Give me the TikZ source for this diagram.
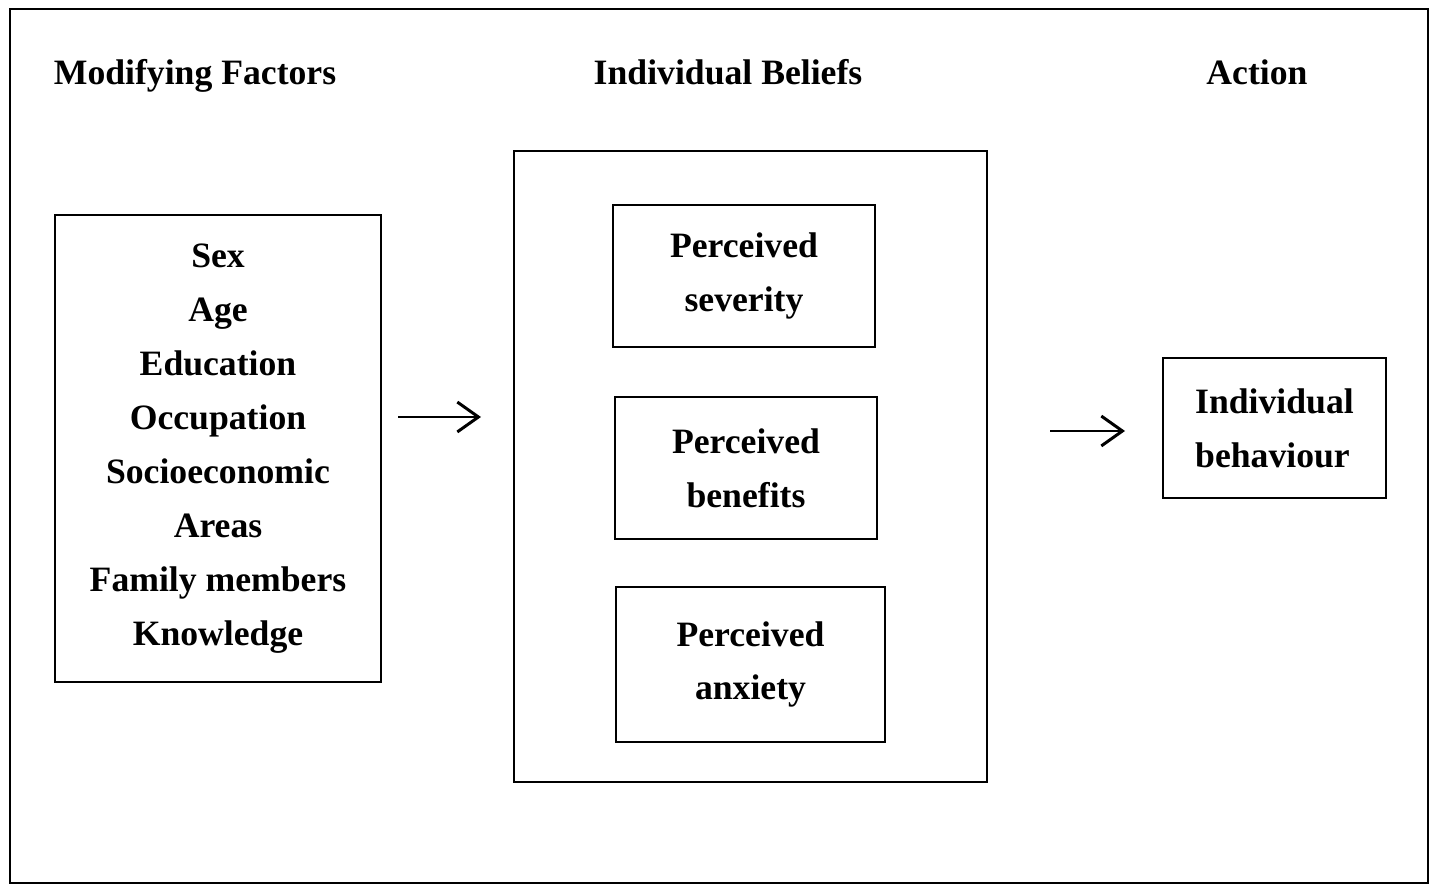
\documentclass[tikz,border=0pt]{standalone}
\usepackage{fontspec}
\setmainfont{Liberation Serif}
\usetikzlibrary{arrows.meta,positioning}

\tikzset{
	box/.style={draw, line width=1pt, inner sep=0pt, align=center},
	label/.style={font=\fontsize{20.3}{30.7}\selectfont\bfseries, align=center},
	flow/.style={line width=1.7pt, -{Straight Barb[length=12pt,width=17pt,line width=1.7pt]}}
}

\begin{document}
\begin{tikzpicture}[x=0.02cm, y=-0.02cm]
		\useasboundingbox (0,0) rectangle (1434,884);
		% frame
		\draw [line width=1.2pt] (10,9) rectangle (1428,883);
		% headings
		\node [label, anchor=base] (hfac) at (195,85) {Modifying Factors};
		\node [label, anchor=base] (hbel) at (728,85) {Individual Beliefs};
		\node [label, anchor=base] (hact) at (1257,85) {Action};
		% boxes
		\node [box, label, minimum width=6.52cm, minimum height=9.34cm] (factors) at (218,448.5) {Sex\\Age\\Education\\Occupation\\Socioeconomic\\Areas\\Family members\\Knowledge};
		\node [box, minimum width=9.46cm, minimum height=12.62cm] (beliefs) at (750.5,466.5) {};
		\node [box, label, minimum width=5.24cm, minimum height=2.84cm] (severity) at (744,276) {Perceived\\severity};
		\node [box, label, minimum width=5.24cm, minimum height=2.84cm] (benefits) at (746,468) {Perceived\\benefits};
		\node [box, label, minimum width=5.38cm, minimum height=3.1cm] (anxiety) at (750.5,664.5) {Perceived\\anxiety};
		\node [box, label, align=left, minimum width=4.46cm, minimum height=2.8cm] (behaviour) at (1274.5,428) {Individual\\behaviour};
		% arrows
		\coordinate (a1) at (398,417);
		\coordinate (b1) at (481,417);
		\coordinate (a2) at (1050,431);
		\coordinate (b2) at (1125,431);
		\draw [flow] (a1) -- (b1);
		\draw [flow] (a2) -- (b2);
	\end{tikzpicture}
\end{document}
